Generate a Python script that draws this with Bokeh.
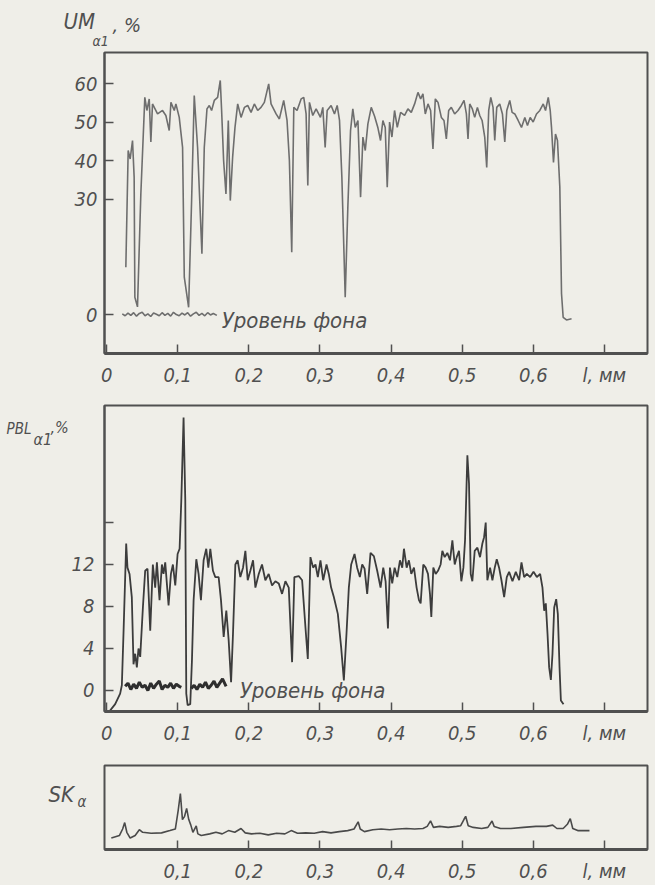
from bokeh.plotting import figure
from bokeh.layouts import column, row
from bokeh.models import FixedTicker, Label, Range1d
from bokeh.core.properties import value
from bokeh.embed import file_html
from bokeh.resources import INLINE

# ---------------- data ----------------
x_ticks = [0, 0.1, 0.2, 0.3, 0.4, 0.5, 0.6, 0.7]
x_tick_labels = ["0", "0,1", "0,2", "0,3", "0,4", "0,5", "0,6", "l, мм"]

um_ticks = [0, 30, 40, 50, 60]
pbl_ticks = [0, 4, 8, 12, 16]
pbl_tick_labels = ["0", "4", "8", "12", ""]

# panel 1: UM_a1, %
um_x = [0.027, 0.0303, 0.0331, 0.0364, 0.0387, 0.0397, 0.0434, 0.0481, 0.0537, 0.0566,
        0.0599, 0.0622, 0.0645, 0.0716, 0.0786, 0.0833, 0.088, 0.0904, 0.0951, 0.0974,
        0.1021, 0.1068, 0.1092, 0.1153, 0.1195, 0.1232, 0.1279, 0.134, 0.1373, 0.1411,
        0.1444, 0.1476, 0.1514, 0.1561, 0.1598, 0.1617, 0.1645, 0.1678, 0.1711, 0.1739,
        0.1772, 0.1805, 0.1843, 0.189, 0.1937, 0.1984, 0.2031, 0.2077, 0.2124, 0.2171,
        0.2218, 0.2279, 0.2312, 0.2383, 0.2429, 0.249, 0.2537, 0.257, 0.2603, 0.2632,
        0.2678, 0.2735, 0.2772, 0.2805, 0.2829, 0.2852, 0.2899, 0.2946, 0.3007, 0.304,
        0.3073, 0.3101, 0.3157, 0.3204, 0.3242, 0.3275, 0.3308, 0.3355, 0.3392, 0.343,
        0.3462, 0.3496, 0.3534, 0.3571, 0.3604, 0.3637, 0.3674, 0.3721, 0.3768, 0.3815,
        0.3852, 0.3885, 0.3918, 0.3946, 0.3979, 0.4012, 0.4049, 0.4087, 0.4134, 0.419,
        0.4237, 0.4284, 0.4331, 0.4378, 0.4416, 0.4448, 0.4481, 0.4519, 0.4556, 0.4589,
        0.4622, 0.466, 0.4707, 0.4744, 0.4777, 0.481, 0.4847, 0.4894, 0.4941, 0.4988,
        0.5026, 0.5059, 0.5082, 0.5106, 0.5143, 0.5176, 0.5214, 0.5247, 0.528, 0.5317,
        0.5345, 0.5373, 0.5402, 0.5434, 0.5458, 0.5486, 0.5528, 0.5566, 0.5599, 0.5627,
        0.5669, 0.5702, 0.574, 0.5787, 0.5834, 0.5881, 0.5918, 0.5956, 0.5998, 0.6045,
        0.6092, 0.614, 0.6172, 0.621, 0.6238, 0.6256, 0.6284, 0.6312, 0.634, 0.6373,
        0.6397, 0.642, 0.6467, 0.6538]
um_y = [12.3, 42.6, 40.4, 45.2, 35.7, 4.5, 2.0, 31.3, 56.4, 53.0,
        56.0, 44.8, 54.7, 52.1, 53.0, 51.7, 47.8, 55.1, 53.0, 54.7,
        51.2, 43.4, 9.7, 1.9, 29.6, 56.9, 43.4, 15.8, 43.4, 53.4,
        54.3, 53.0, 55.6, 56.4, 60.8, 53.0, 40.0, 31.3, 50.4, 29.6,
        40.9, 48.6, 54.7, 51.2, 53.8, 54.3, 52.5, 54.7, 53.0, 53.8,
        55.1, 59.9, 54.7, 52.1, 50.8, 55.6, 50.4, 40.0, 16.2, 53.8,
        53.0, 56.0, 56.4, 52.1, 33.5, 55.1, 51.7, 53.4, 51.2, 53.8,
        43.4, 53.0, 54.3, 52.1, 54.3, 50.4, 35.7, 4.5, 27.9, 47.8,
        53.4, 48.6, 50.4, 30.5, 46.1, 42.6, 49.5, 53.8, 51.5, 48.5,
        45.2, 50.4, 48.6, 33.1, 50.0, 46.1, 53.0, 48.6, 52.5, 51.7,
        53.4, 52.5, 54.7, 57.7, 56.0, 57.3, 52.1, 54.7, 53.0, 43.0,
        56.0, 55.1, 51.2, 50.4, 45.6, 53.0, 53.8, 52.1, 53.0, 54.3,
        55.6, 52.1, 45.6, 54.7, 53.4, 51.2, 53.8, 51.7, 50.4, 46.1,
        38.2, 53.0, 56.4, 53.8, 45.2, 53.8, 54.7, 52.1, 44.8, 53.0,
        55.6, 52.5, 52.1, 50.4, 48.6, 51.2, 49.1, 51.2, 50.0, 52.1,
        53.0, 54.7, 53.0, 56.4, 53.0, 48.6, 39.5, 46.9, 45.2, 33.1,
        5.4, -0.7, -1.4, -1.1]

um_bg_x = [0.022, 0.026, 0.030, 0.034, 0.038, 0.042, 0.046, 0.050, 0.054, 0.058,
           0.062, 0.066, 0.070, 0.074, 0.078, 0.082, 0.086, 0.090, 0.094, 0.098,
           0.102, 0.106, 0.110, 0.114, 0.118, 0.122, 0.126, 0.130, 0.134, 0.138,
           0.142, 0.146, 0.150, 0.155]
um_bg_y = [0.2, -0.3, 0.4, -0.2, 0.5, -0.4, 0.3, 0.6, -0.3, 0.2,
           -0.5, 0.4, 0.1, -0.3, 0.5, -0.2, 0.3, -0.4, 0.6, 0.0,
           -0.3, 0.4, -0.1, 0.5, -0.4, 0.2, 0.6, -0.2, 0.3, -0.3,
           0.5, -0.1, 0.3, -0.2]

# panel 2: PBL_a1, %
pbl_x = [0.0026, 0.012, 0.019, 0.0214, 0.0237, 0.0275, 0.0293, 0.0322, 0.0354, 0.0378,
         0.0401, 0.0425, 0.0448, 0.0472, 0.051, 0.0542, 0.0575, 0.0613, 0.065, 0.0683,
         0.0707, 0.0744, 0.0777, 0.08, 0.0824, 0.0871, 0.0904, 0.0932, 0.0965, 0.0998,
         0.1026, 0.105, 0.1082, 0.1106, 0.112, 0.1139, 0.1176, 0.12, 0.1223, 0.1261,
         0.1293, 0.1326, 0.1364, 0.1401, 0.143, 0.1458, 0.1495, 0.1528, 0.1575, 0.1608,
         0.1646, 0.1683, 0.1716, 0.175, 0.1777, 0.181, 0.1843, 0.188, 0.1918, 0.1951,
         0.1984, 0.2021, 0.2059, 0.2092, 0.2139, 0.2185, 0.2232, 0.2279, 0.2326, 0.2373,
         0.242, 0.2467, 0.2514, 0.2561, 0.2608, 0.264, 0.2702, 0.2749, 0.2796, 0.2829,
         0.2866, 0.2904, 0.2937, 0.297, 0.3007, 0.3045, 0.3092, 0.3124, 0.3157, 0.3195,
         0.3251, 0.3298, 0.3336, 0.3373, 0.3406, 0.3439, 0.3486, 0.3523, 0.3561, 0.3594,
         0.3627, 0.3664, 0.3711, 0.3758, 0.3805, 0.3852, 0.389, 0.3923, 0.3956, 0.3984,
         0.4016, 0.405, 0.4087, 0.4125, 0.4157, 0.4181, 0.4219, 0.4251, 0.4284, 0.4322,
         0.4359, 0.4392, 0.4416, 0.4453, 0.4486, 0.4519, 0.4547, 0.4566, 0.4594, 0.4627,
         0.466, 0.4697, 0.4721, 0.4754, 0.4791, 0.4829, 0.4862, 0.4895, 0.4923, 0.4955,
         0.4988, 0.5017, 0.504, 0.5073, 0.5096, 0.512, 0.5143, 0.5176, 0.5214, 0.5251,
         0.5284, 0.5308, 0.5331, 0.5354, 0.5392, 0.5425, 0.5458, 0.5486, 0.5519, 0.5552,
         0.559, 0.5627, 0.566, 0.5707, 0.5754, 0.5801, 0.5834, 0.5871, 0.5909, 0.5956,
         0.6003, 0.605, 0.6096, 0.6129, 0.6153, 0.6176, 0.62, 0.6223, 0.6247, 0.627,
         0.6294, 0.6322, 0.6345, 0.6369, 0.6388, 0.6425]
pbl_y = [-2.1, -1.3, -0.3, 0.5, 5.4, 14.0, 11.7, 11.1, 8.9, 2.5,
         3.5, 2.2, 4.0, 3.2, 7.9, 11.4, 11.6, 5.7, 12.0, 9.8,
         12.2, 8.6, 12.0, 11.1, 12.2, 8.1, 11.1, 12.0, 10.0, 13.0,
         13.5, 18.1, 26.0, 18.1, -0.3, -1.4, -1.3, 2.9, 8.6, 12.5,
         11.1, 8.6, 12.4, 13.5, 11.7, 13.5, 11.4, 10.8, 10.8, 8.6,
         5.1, 7.6, 4.8, 0.8, 5.4, 12.0, 12.4, 10.8, 11.7, 13.3,
         10.5, 11.4, 12.4, 9.8, 11.1, 12.0, 10.5, 11.1, 10.0, 10.4,
         10.2, 9.2, 10.4, 9.8, 2.7, 10.8, 10.9, 10.5, 6.0, 3.0,
         12.7, 11.7, 12.0, 10.8, 12.4, 10.5, 12.0, 11.1, 9.8, 8.9,
         7.3, 4.1, 0.95, 5.4, 9.8, 12.0, 13.0, 11.7, 10.8, 12.0,
         11.6, 9.2, 13.1, 12.8, 11.4, 9.8, 11.7, 10.4, 5.9, 11.7,
         10.2, 11.7, 10.8, 12.4, 11.7, 13.5, 11.7, 12.4, 11.1, 11.7,
         9.8, 8.6, 8.3, 12.0, 11.7, 11.1, 9.2, 7.0, 11.7, 11.1,
         11.4, 12.0, 13.3, 12.7, 13.1, 12.4, 14.3, 12.0, 12.7, 13.3,
         10.4, 11.7, 14.3, 22.4, 19.7, 11.1, 10.4, 13.3, 13.6, 12.7,
         14.0, 14.6, 16.0, 10.5, 11.7, 10.5, 11.7, 12.5, 11.7, 10.5,
         8.9, 10.8, 11.3, 10.4, 11.3, 10.5, 12.2, 10.8, 11.1, 10.8,
         11.3, 10.8, 11.1, 9.8, 7.6, 8.3, 5.4, 2.2, 1.0, 3.5,
         7.9, 8.7, 7.3, 2.2, -0.95, -1.3]

pbl_bg1_x = [0.026, 0.030, 0.034, 0.038, 0.042, 0.046, 0.050, 0.054, 0.058, 0.062,
             0.066, 0.070, 0.074, 0.078, 0.082, 0.086, 0.090, 0.094, 0.098, 0.102, 0.105]
pbl_bg1_y = [0.4, 0.7, 0.1, 0.6, 0.2, 0.8, 0.3, 0.5, 0.0, 0.7,
             0.2, 0.6, 0.9, 0.1, 0.5, 0.3, 0.7, 0.2, 0.6, 0.4, 0.3]
pbl_bg2_x = [0.119, 0.123, 0.127, 0.131, 0.135, 0.139, 0.143, 0.147, 0.151, 0.155,
             0.159, 0.163, 0.168]
pbl_bg2_y = [0.2, 0.5, 0.1, 0.6, 0.3, 0.8, 0.2, 0.5, 0.9, 0.3,
             0.7, 1.1, 0.4]

# panel 3: SK_a
sk_x = [0.0066, 0.0181, 0.0225, 0.0254, 0.0284, 0.0331, 0.0401, 0.046, 0.0507, 0.0625,
        0.0772, 0.089, 0.0966, 0.1007, 0.1037, 0.1066, 0.1096, 0.1125, 0.1155, 0.1184,
        0.1213, 0.126, 0.1283, 0.1331, 0.1449, 0.1537, 0.1625, 0.1713, 0.1802, 0.189,
        0.1949, 0.2037, 0.2155, 0.2272, 0.239, 0.2507, 0.2596, 0.2684, 0.2802, 0.2919,
        0.3037, 0.3155, 0.3272, 0.339, 0.3479, 0.3537, 0.3566, 0.3625, 0.3743, 0.3861,
        0.3979, 0.4096, 0.4214, 0.4331, 0.4449, 0.4508, 0.4555, 0.4596, 0.4684, 0.4803,
        0.492, 0.4979, 0.5026, 0.5049, 0.5085, 0.5155, 0.5273, 0.5361, 0.542, 0.5449,
        0.5538, 0.5685, 0.5861, 0.6038, 0.6185, 0.6273, 0.6332, 0.642, 0.6479, 0.652,
        0.6555, 0.6625, 0.679]
sk_y = [1.36, 1.67, 2.44, 3.2, 2.05, 1.36, 1.67, 2.36, 2.05, 1.94,
        1.98, 2.25, 2.44, 4.7, 6.66, 3.56, 3.95, 4.9, 3.56, 2.9,
        2.05, 2.8, 1.86, 1.67, 1.86, 2.05, 1.86, 2.25, 2.05, 2.5,
        1.98, 1.86, 1.94, 1.74, 1.94, 1.86, 2.25, 1.94, 1.98, 1.94,
        2.13, 1.98, 2.13, 2.25, 2.44, 3.3, 2.44, 2.13, 2.36, 2.44,
        2.36, 2.44, 2.5, 2.44, 2.5, 2.75, 3.4, 2.63, 2.75, 2.63,
        2.75, 2.83, 3.6, 3.95, 2.83, 2.63, 2.5, 2.63, 3.4, 2.75,
        2.5, 2.5, 2.63, 2.75, 2.75, 2.9, 2.5, 2.5, 3.0, 3.67,
        2.5, 2.25, 2.25]

# ---------------- style ----------------
FONT = "'Liberation Sans Narrow', 'DejaVu Sans Condensed', 'DejaVu Sans', sans-serif"
PAPER = "#efeee8"
INK = "#505050"
X0, X1 = -0.003, 0.7606


def make_fig(width, height, left, top, bottom, y0, y1):
    p = figure(width=width, height=height, output_backend="svg", toolbar_location=None,
               x_range=Range1d(X0, X1), y_range=Range1d(y0, y1),
               min_border_left=left, min_border_right=8,
               min_border_top=top, min_border_bottom=bottom)
    p.background_fill_color = PAPER
    p.border_fill_color = PAPER
    p.outline_line_color = INK
    p.outline_line_width = 2
    p.xgrid.visible = False
    p.ygrid.visible = False
    for ax in (p.xaxis[0], p.yaxis[0]):
        ax.major_tick_in = 9
        ax.major_tick_out = 0
        ax.minor_tick_in = 0
        ax.minor_tick_out = 0
        ax.major_tick_line_color = INK
        ax.major_tick_line_width = 1.5
        ax.axis_line_color = INK
        ax.major_label_text_font = FONT
        ax.major_label_text_font_style = "italic"
        ax.major_label_text_font_size = "20px"
        ax.major_label_text_color = INK
    p.xaxis.axis_line_width = 3
    p.yaxis.axis_line_width = 2
    p.xaxis.ticker = FixedTicker(ticks=x_ticks)
    p.xaxis.major_label_overrides = dict(zip(x_ticks, x_tick_labels))
    p.xaxis.major_label_standoff = 9
    return p


def label_fig(width, height, page_top, top, bottom):
    """Strip for axis titles; its coordinates are page pixels (y negated)."""
    f = figure(width=width, height=height, output_backend="svg", toolbar_location=None,
               x_range=Range1d(0, width),
               y_range=Range1d(-(page_top + height - bottom), -(page_top + top)),
               x_axis_location=None, y_axis_location=None,
               min_border_left=0, min_border_right=0,
               min_border_top=top, min_border_bottom=bottom)
    f.background_fill_color = PAPER
    f.border_fill_color = PAPER
    f.outline_line_color = None
    f.xgrid.visible = False
    f.ygrid.visible = False
    return f


def put_text(f, x, page_y, text, size):
    f.text(x=[x], y=[-page_y], text=[text], text_font=value(FONT), text_font_style="italic",
           text_font_size=size, text_color=INK, text_baseline="middle")


def add_label(p, x, y, text, size):
    p.add_layout(Label(x=x, y=y, text=text, text_font=FONT, text_font_style="italic",
                       text_font_size=size, text_color=INK, text_baseline="middle"))


# panel 1 title strip
lab1 = label_fig(655, 50, 0, 0, 0)
put_text(lab1, 63, 21, "UM", "22px")
put_text(lab1, 92, 40, "α1", "14px")
put_text(lab1, 112, 24, ", %", "20px")

# panel 1
p1 = make_fig(655, 345, 104, 2, 42, -10.1, 68.05)
p1.yaxis.ticker = FixedTicker(ticks=um_ticks)
p1.yaxis.major_label_standoff = 7
p1.line(um_x, um_y, line_color="#6e6e6e", line_width=1.6)
p1.line(um_bg_x, um_bg_y, line_color="#6e6e6e", line_width=1.6)
add_label(p1, 0.1618, -1.6, "Уровень фона", "22px")

# panel 2 title strip + panel 2
lab2 = label_fig(68, 360, 395, 10, 44)
put_text(lab2, 6, 428, "PBL", "15px")
put_text(lab2, 33, 439, "α1", "16px")
put_text(lab2, 50, 427, ",%", "16px")

p2 = make_fig(587, 360, 36, 10, 44, -2.0, 27.14)
p2.yaxis.ticker = FixedTicker(ticks=pbl_ticks)
p2.yaxis.major_label_overrides = dict(zip(pbl_ticks, pbl_tick_labels))
p2.yaxis.major_label_standoff = 10
p2.line(pbl_x, pbl_y, line_color="#3c3c3c", line_width=1.8)
p2.line(pbl_bg1_x, pbl_bg1_y, line_color="#2e2e2e", line_width=3)
p2.line(pbl_bg2_x, pbl_bg2_y, line_color="#2e2e2e", line_width=3)
add_label(p2, 0.1871, 0.0, "Уровень фона", "22px")

# panel 3 title strip + panel 3
lab3 = label_fig(90, 130, 755, 10, 34)
put_text(lab3, 48, 795, "SK", "22px")
put_text(lab3, 77, 802, "α", "15px")

p3 = make_fig(565, 130, 14, 10, 34, 0, 10)
p3.yaxis.visible = False
p3.xaxis.ticker = FixedTicker(ticks=x_ticks[1:])
p3.xaxis.major_label_overrides = dict(zip(x_ticks[1:], x_tick_labels[1:]))
p3.line(sk_x, sk_y, line_color="#4a4a4a", line_width=1.6)

layout = column(row(lab1, spacing=0), p1, row(lab2, p2, spacing=0),
                row(lab3, p3, spacing=0), spacing=0)
layout.styles = {"background-color": PAPER}

open("out.html", "w").write(file_html(layout, INLINE))
